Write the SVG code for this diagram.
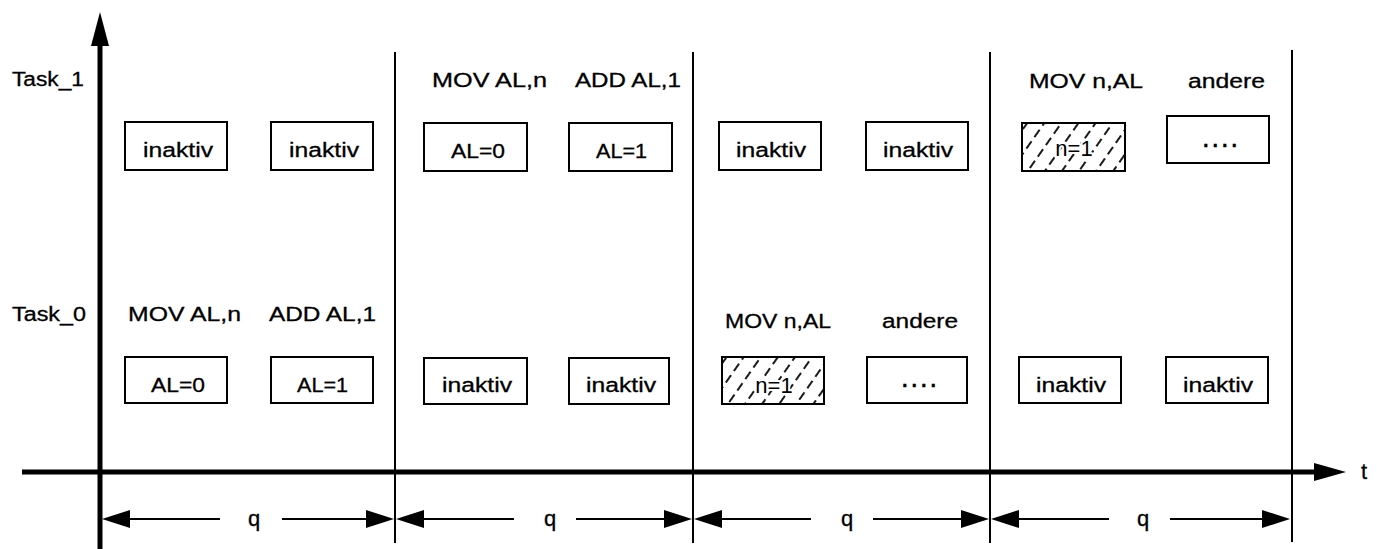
<svg xmlns="http://www.w3.org/2000/svg" width="1377" height="549" viewBox="0 0 1377 549">
<style>
text{font-family:"Liberation Sans",Arial,sans-serif;font-size:20px;fill:#000;stroke:#000;stroke-width:0.3}
.box{fill:#fff;stroke:#000;stroke-width:2}
.hb{fill:url(#hatch);stroke:#000;stroke-width:2}
.bt{text-anchor:middle}
.halo{paint-order:stroke;stroke:#fff;stroke-width:4;stroke-linejoin:round}
.dots{font-weight:bold;letter-spacing:4px}
.axis{stroke:#000;stroke-width:5;fill:none}
.sep{stroke:#000;stroke-width:2;fill:none}
.dim{stroke:#000;stroke-width:2;fill:none}
.head{fill:#000;stroke:none}
</style>
<defs>
<pattern id="hatch" width="14" height="14" patternUnits="userSpaceOnUse" patternTransform="rotate(35)">
<line x1="2" y1="0" x2="2" y2="14" stroke="#000" stroke-width="1.8" stroke-dasharray="9 5"/>
</pattern>
</defs>

<g id="connectors">
<line class="axis" x1="100" y1="40" x2="100" y2="549"/>
<polygon class="head" points="100,12 91,46 109,46"/>
<line class="axis" x1="22" y1="472" x2="1320" y2="472"/>
<polygon class="head" points="1346,472 1314,463 1314,481"/>
<line class="sep" x1="395" y1="52" x2="395" y2="543"/>
<line class="sep" x1="693" y1="52" x2="693" y2="543"/>
<line class="sep" x1="990" y1="52" x2="990" y2="543"/>
<line class="sep" x1="1292" y1="50" x2="1292" y2="542"/>
<g id="dim1">
<line class="dim" x1="120" y1="519" x2="220" y2="519"/>
<line class="dim" x1="282" y1="519" x2="375" y2="519"/>
<polygon class="head" points="102,519 130,510 130,528"/>
<polygon class="head" points="394,519 366,510 366,528"/>
</g>
<g id="dim2">
<line class="dim" x1="415" y1="519" x2="514" y2="519"/>
<line class="dim" x1="576" y1="519" x2="672" y2="519"/>
<polygon class="head" points="396,519 424,510 424,528"/>
<polygon class="head" points="692,519 664,510 664,528"/>
</g>
<g id="dim3">
<line class="dim" x1="712" y1="519" x2="811" y2="519"/>
<line class="dim" x1="873" y1="519" x2="970" y2="519"/>
<polygon class="head" points="694,519 722,510 722,528"/>
<polygon class="head" points="989,519 961,510 961,528"/>
</g>
<g id="dim4">
<line class="dim" x1="1010" y1="519" x2="1109" y2="519"/>
<line class="dim" x1="1170" y1="519" x2="1270" y2="519"/>
<polygon class="head" points="991,519 1019,510 1019,528"/>
<polygon class="head" points="1290,519 1262,510 1262,528"/>
</g>
</g>

<g id="labels">
<text x="12" y="86" textLength="72" lengthAdjust="spacingAndGlyphs">Task_1</text>
<text x="12" y="321" textLength="74" lengthAdjust="spacingAndGlyphs">Task_0</text>
<text x="1361" y="479" style="font-size:22px">t</text>
<text class="bt" x="254" y="526" style="font-size:22px">q</text>
<text class="bt" x="550" y="526" style="font-size:22px">q</text>
<text class="bt" x="847" y="526" style="font-size:22px">q</text>
<text class="bt" x="1143" y="526" style="font-size:22px">q</text>
<text x="432" y="87" textLength="115" lengthAdjust="spacingAndGlyphs">MOV AL,n</text>
<text x="575" y="87" textLength="106" lengthAdjust="spacingAndGlyphs">ADD AL,1</text>
<text x="1029" y="88" textLength="114" lengthAdjust="spacingAndGlyphs">MOV n,AL</text>
<text x="1188" y="88" textLength="77" lengthAdjust="spacingAndGlyphs">andere</text>
<text x="128" y="321" textLength="113" lengthAdjust="spacingAndGlyphs">MOV AL,n</text>
<text x="269" y="321" textLength="107" lengthAdjust="spacingAndGlyphs">ADD AL,1</text>
<text x="725" y="328" textLength="106" lengthAdjust="spacingAndGlyphs">MOV n,AL</text>
<text x="882" y="328" textLength="76" lengthAdjust="spacingAndGlyphs">andere</text>
</g>

<g id="t1p1a"><rect class="box" x="125" y="122" width="102" height="48"/><text x="143" y="157" textLength="70" lengthAdjust="spacingAndGlyphs">inaktiv</text></g>
<g id="t1p1b"><rect class="box" x="271" y="122" width="102" height="48"/><text x="289" y="157" textLength="70" lengthAdjust="spacingAndGlyphs">inaktiv</text></g>
<g id="t1p2a"><rect class="box" x="424" y="123" width="103" height="48"/><text x="451" y="158" textLength="54" lengthAdjust="spacingAndGlyphs">AL=0</text></g>
<g id="t1p2b"><rect class="box" x="569" y="123" width="103" height="48"/><text x="596" y="158" textLength="51" lengthAdjust="spacingAndGlyphs">AL=1</text></g>
<g id="t1p3a"><rect class="box" x="719" y="122" width="102" height="48"/><text x="736" y="157" textLength="70" lengthAdjust="spacingAndGlyphs">inaktiv</text></g>
<g id="t1p3b"><rect class="box" x="866" y="122" width="102" height="48"/><text x="883" y="157" textLength="70" lengthAdjust="spacingAndGlyphs">inaktiv</text></g>
<g id="t1p4a"><rect class="hb" x="1022" y="123" width="103" height="48"/><text class="bt halo" x="1074" y="156" style="font-size:22px">n=1</text></g>
<g id="t1p4b"><rect class="box" x="1167" y="116" width="102" height="47"/><text class="bt dots" x="1222" y="147">....</text></g>

<g id="t0p1a"><rect class="box" x="125" y="357" width="102" height="46"/><text x="151" y="392" textLength="54" lengthAdjust="spacingAndGlyphs">AL=0</text></g>
<g id="t0p1b"><rect class="box" x="271" y="357" width="102" height="46"/><text x="297" y="392" textLength="51" lengthAdjust="spacingAndGlyphs">AL=1</text></g>
<g id="t0p2a"><rect class="box" x="424" y="358" width="103" height="46"/><text x="442" y="392" textLength="70" lengthAdjust="spacingAndGlyphs">inaktiv</text></g>
<g id="t0p2b"><rect class="box" x="569" y="358" width="100" height="46"/><text x="586" y="392" textLength="70" lengthAdjust="spacingAndGlyphs">inaktiv</text></g>
<g id="t0p3a"><rect class="hb" x="722" y="357" width="102" height="47"/><text class="bt halo" x="774" y="393" style="font-size:22px">n=1</text></g>
<g id="t0p3b"><rect class="box" x="867" y="357" width="100" height="46"/><text class="bt dots" x="921" y="387">....</text></g>
<g id="t0p4a"><rect class="box" x="1019" y="357" width="102" height="46"/><text x="1036" y="392" textLength="70" lengthAdjust="spacingAndGlyphs">inaktiv</text></g>
<g id="t0p4b"><rect class="box" x="1166" y="357" width="102" height="46"/><text x="1183" y="392" textLength="70" lengthAdjust="spacingAndGlyphs">inaktiv</text></g>
</svg>
